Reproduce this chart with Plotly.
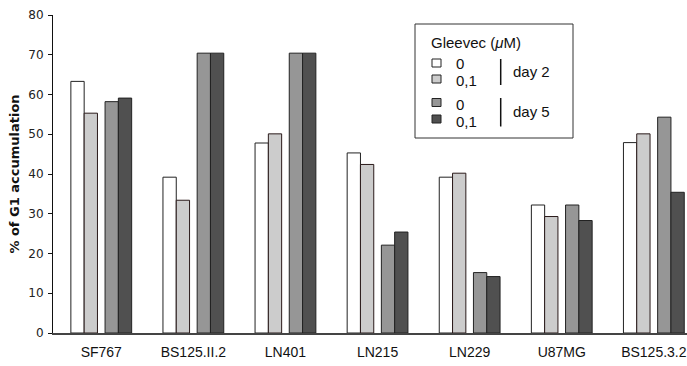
import plotly.graph_objects as go

categories = ["SF767", "BS125.II.2", "LN401", "LN215", "LN229", "U87MG", "BS125.3.2"]
day2_0 = [63.3, 39.2, 47.8, 45.3, 39.2, 32.2, 47.9]
day2_01 = [55.3, 33.4, 50.1, 42.4, 40.2, 29.3, 50.1]
day5_0 = [58.2, 70.4, 70.4, 22.1, 15.2, 32.2, 54.3]
day5_01 = [59.1, 70.4, 70.4, 25.4, 14.2, 28.3, 35.4]
y_ticks = [0, 10, 20, 30, 40, 50, 60, 70, 80]

W, H = 687, 366
L, R, T, B = 53, 0, 15, 33
PW, PH = W - L - R, H - T - B

series = [
    (day2_0, "#ffffff", "#222222"),
    (day2_01, "#cccccc", "#2a1a1a"),
    (day5_0, "#969696", "#222222"),
    (day5_01, "#505050", "#222222"),
]
bw = 0.1444
offsets = [-0.330, -0.1857, 0.0413, 0.1857]

xs = list(range(len(categories)))
fig = go.Figure()
for (vals, fill, line), off in zip(series, offsets):
    fig.add_trace(go.Bar(
        x=xs, y=vals, width=bw, offset=off,
        marker=dict(color=fill, line=dict(color=line, width=1)),
        showlegend=False, hoverinfo="skip",
    ))

def px(x):
    return (x - L) / PW

def py(y):
    return (H - B - y) / PH

LEG_FONT = dict(family="Liberation Sans, Arial", size=15, color="#111111")
shapes = []
annotations = []
# legend box
shapes.append(dict(type="rect", xref="paper", yref="paper",
                   x0=px(415), x1=px(573), y0=py(24), y1=py(138),
                   line=dict(color="#333333", width=1), fillcolor="white", layer="above"))
annotations.append(dict(xref="paper", yref="paper", x=px(429), y=py(42.5), xanchor="left", yanchor="middle",
                        text="Gleevec (<i>μ</i>M)", showarrow=False, font=LEG_FONT))
leg_rows = [(63, "0", "#ffffff", 64), (79, "0,1", "#cccccc", 81), (102.5, "0", "#969696", 104), (119, "0,1", "#505050", 121)]
for yc, lab, col, ty in leg_rows:
    shapes.append(dict(type="rect", xref="paper", yref="paper",
                       x0=px(432), x1=px(441), y0=py(yc - 4), y1=py(yc + 4),
                       line=dict(color="#222222", width=1), fillcolor=col, layer="above"))
    annotations.append(dict(xref="paper", yref="paper", x=px(453.5), y=py(ty), xanchor="left", yanchor="middle",
                            text=lab, showarrow=False, font=LEG_FONT))
for y0, y1, lab, yc in [(59, 85, "day 2", 71.5), (98, 126.5, "day 5", 111.5)]:
    shapes.append(dict(type="line", xref="paper", yref="paper",
                       x0=px(500.7), x1=px(500.7), y0=py(y0), y1=py(y1),
                       line=dict(color="#111111", width=1.5), layer="above"))
    annotations.append(dict(xref="paper", yref="paper", x=px(510.5), y=py(yc), xanchor="left", yanchor="middle",
                            text=lab, showarrow=False, font=LEG_FONT))

fig.update_layout(
    width=W, height=H,
    margin=dict(l=L, r=R, t=T, b=B, pad=0, autoexpand=False),
    paper_bgcolor="white", plot_bgcolor="white",
    barmode="overlay",
    shapes=shapes, annotations=annotations,
    xaxis=dict(range=[-0.524, 6.36], tickvals=xs, ticktext=categories, automargin=False,
               showgrid=False, zeroline=False, showline=True, linecolor="#444444", linewidth=1.5,
               ticks="", ticklabelstandoff=5, ticklabeloverflow="allow",
               tickfont=dict(family="Liberation Sans, Arial", size=14, color="#111111"),
               fixedrange=True),
    yaxis=dict(range=[0, 80], tickvals=y_ticks, showgrid=False, zeroline=False, automargin=False,
               showline=True, linecolor="#111111", linewidth=1,
               ticks="outside", ticklen=4, tickcolor="#111111", ticklabelstandoff=2,
               tickfont=dict(family="DejaVu Sans, Verdana", size=12, color="#222222"),
               title=dict(text="<b>% of G1 accumulation</b>", standoff=5,
                          font=dict(family="DejaVu Sans, Verdana", size=13, color="#111111")),
               fixedrange=True),
)

fig.write_html("out.html", config={"displayModeBar": False},
               post_script="document.body.style.margin='0';document.body.style.overflow='hidden';")
